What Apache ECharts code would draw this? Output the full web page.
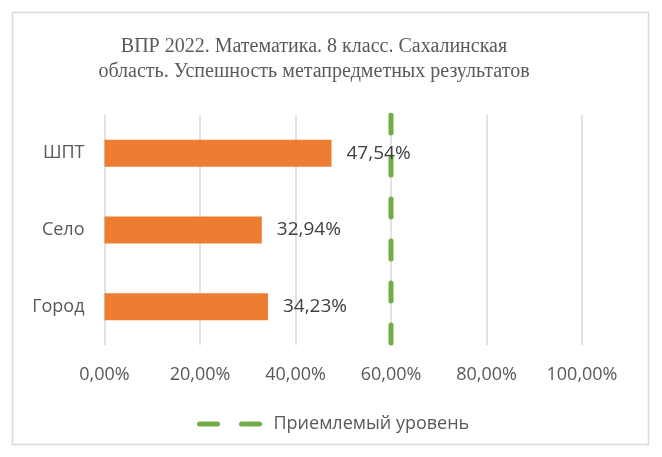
<!DOCTYPE html>
<html>
<head>
<meta charset="utf-8">
<script src="https://cdn.jsdelivr.net/npm/echarts@6/dist/echarts.min.js"></script>
<style>
  html, body { margin: 0; padding: 0; background: #fff; }
  #chart { width: 662px; height: 457px; }
</style>
</head>
<body>
<div id="chart"></div>
<script>
// Categories, top to bottom
var categories = ['ШПТ', 'Село', 'Город'];
// Share of students reaching the result (fraction of 1)
var successValues = [0.4754, 0.3294, 0.3423];
// Acceptable level, drawn as a vertical dashed line across the plot
var acceptableLevel = 0.6;
var acceptableName = 'Приемлемый уровень';

function pct(v) {
  return (v * 100).toFixed(2).replace('.', ',') + '%';
}

var chart = echarts.init(document.getElementById('chart'), null, { renderer: 'canvas' });
var sans = '"Open Sans", "Noto Sans", sans-serif';
var green = '#70ad47';

chart.setOption({
  animation: false,
  backgroundColor: '#ffffff',
  title: {
    text: 'ВПР 2022. Математика. 8 класс. Сахалинская\nобласть. Успешность метапредметных результатов',
    left: 309,
    top: 29,
    textAlign: 'center',
    textStyle: {
      fontFamily: '"Liberation Serif", "Times New Roman", serif',
      fontSize: 20,
      fontWeight: 'normal',
      color: '#595959',
      lineHeight: 25
    }
  },
  graphic: [{
    type: 'rect',
    shape: { x: 12.5, y: 12.5, width: 636, height: 432 },
    style: { fill: 'none', stroke: '#d9d9d9', lineWidth: 1.5 },
    silent: true,
    z: -1
  }],
  legend: {
    data: [acceptableName],
    left: 197,
    top: 415,
    padding: 0,
    itemWidth: 69,
    itemHeight: 14,
    itemStyle: { opacity: 0 },
    lineStyle: { width: 5, type: [18, 24], cap: 'round', color: green },
    textStyle: { fontFamily: sans, fontSize: 18, color: '#595959' }
  },
  grid: { left: 104.5, right: 80, top: 115, bottom: 112, containLabel: false },
  xAxis: {
    type: 'value',
    min: 0,
    max: 1,
    interval: 0.2,
    axisLine: { show: false },
    axisTick: { show: false },
    splitLine: { show: true, lineStyle: { color: '#d9d9d9', width: 1.5 } },
    axisLabel: {
      formatter: function (v) { return pct(v); },
      fontFamily: sans,
      fontSize: 18,
      color: '#595959',
      margin: 21
    }
  },
  yAxis: [{
    type: 'category',
    data: categories,
    inverse: true,
    axisLine: { show: false },
    axisTick: { show: false },
    axisLabel: { fontFamily: sans, fontSize: 18, color: '#595959', margin: 20 }
  }, {
    type: 'value',
    min: 0,
    max: 1,
    show: false
  }],
  series: [{
    type: 'bar',
    name: 'Успешность',
    data: successValues,
    barWidth: 27,
    itemStyle: { color: '#ed7d31' },
    label: {
      show: true,
      position: 'right',
      distance: 15,
      formatter: function (p) { return pct(p.value); },
      fontFamily: sans,
      fontSize: 19,
      color: '#404040'
    },
    z: 2
  }, {
    type: 'line',
    name: acceptableName,
    yAxisIndex: 1,
    data: [[acceptableLevel, 1], [acceptableLevel, 0]],
    symbol: 'none',
    itemStyle: { color: green },
    lineStyle: { color: green, width: 5, type: [18, 24], cap: 'round' },
    z: 1
  }]
});
</script>
</body>
</html>
